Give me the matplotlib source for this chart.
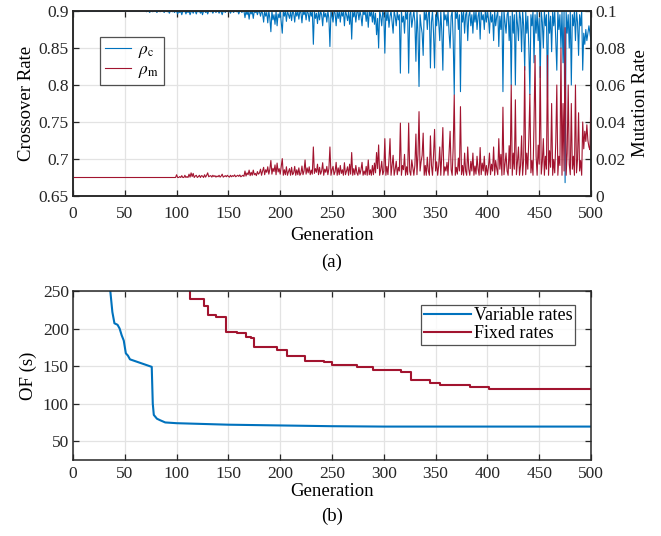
import numpy as np
import matplotlib
matplotlib.use("Agg")
import matplotlib.pyplot as plt

plt.rcParams['font.family'] = ['Liberation Serif', 'DejaVu Serif']
plt.rcParams['mathtext.fontset'] = 'stix'

# ---- (a) adaptive rates per generation ----
crossover_rate = [0.9] * 70 + [
    .9, .899, .9, .9, .898, .9, .9, .899, .9, .9, .9, .898, .9, .9, .899, .9, .9, .9, .898, .9,
    .9, .899, .9, .897, .9, .9, .899, .9, .898, .9, .9, .896, .9, .898, .9, .895, .9, .899, .9, .896,
    .9, .898, .9, .895, .899, .9, .897, .9, .9, .896, .9, .899, .9, .897, .9, .895, .9, .9, .898, .9,
    .896, .9, .9, .899, .9, .897, .9, .9, .898, .9, .9, .897, .9, .899, .895, .9, .9, .898, .9, .9,
    .899, .9, .897, .9, .9, .898, .9, .9, .899, .9, .896, .9, .9, .898, .9, .9, .891, .9, .895, .9,
    .889, .9, .896, .9, .89, .9, .898, .9, .895, .9, .899, .893, .9, .897, .885, .9, .893, .898, .884, .9,
    .89, .872, .9, .888, .895, .882, .9, .88, .896, .891, .9, .885, .87, .9, .893, .9, .886, .9, .895, .89,
    .9, .887, .9, .897, .885, .9, .893, .9, .889, .9, .898, .884, .9, .895, .9, .888, .9, .897, .886, .9,
    .893, .9, .855, .9, .89, .897, .883, .9, .888, .9, .895, .88, .9, .892, .897, .885, .9, .89, .852, .9,
    .893, .885, .9, .897, .88, .9, .89, .9, .885, .899, .893, .9, .88, .9, .895, .887, .9, .882, .9, .862,
    .9, .892, .9, .885, .898, .9, .888, .9, .893, .88, .9, .895, .9, .886, .9, .878, .9, .893, .9, .885,
    .9, .882, .897, .868, .89, .85, .9, .893, .88, .9, .895, .843, .9, .887, .9, .878, .893, .9, .885, .87,
    .9, .893, .88, .9, .888, .895, .816, .9, .885, .893, .87, .9, .889, .9, .816, .895, .9, .878, .89, .9,
    .885, .832, .9, .87, .798, .895, .88, .87, .84, .9, .888, .9, .875, .896, .9, .823, .885, .9, .87, .823,
    .895, .88, .9, .885, .86, .9, .872, .82, .9, .888, .895, .88, .9, .87, .85, .893, .9, .86, .787, .9,
    .89, .9, .875, .895, .791, .9, .885, .9, .87, .895, .9, .86, .893, .9, .88, .895, .87, .9, .885, .9,
    .875, .893, .9, .862, .9, .888, .895, .875, .9, .885, .9, .89, .87, .9, .885, .895, .86, .9, .88, .893,
    .9, .852, .893, .875, .9, .791, .9, .885, .87, .895, .9, .86, .893, .8, .9, .87, .895, .8, .9, .883,
    .86, .9, .89, .845, .9, .88, .82, .9, .87, .893, .85, .787, .895, .88, .9, .83, .895, .87, .9, .86,
    .89, .81, .9, .885, .85, .9, .88, .895, .783, .9, .87, .893, .845, .9, .88, .9, .86, .82, .9, .875,
    .895, .85, .9, .83, .9, .668, .9, .87, .895, .85, .9, .8, .895, .88, .9, .86, .9, .885, .84, .895,
    .88, .9, .82, .87, .855, .875, .86, .87, .88, .87, .86,
]

mutation_rate = [0.01] * 100 + [
    .0115, .01, .01, .0105, .01, .011, .01, .01, .0112, .01, .0105, .01, .0118, .0102, .0125, .0105, .0122, .01, .0108, .0112,
    .01, .0105, .0112, .01, .011, .0108, .01, .0115, .0102, .0112, .0125, .0104, .0108, .011, .0102, .0112, .0105, .011, .0102, .0108,
    .0104, .0112, .0102, .0108, .0118, .0102, .0106, .011, .0104, .0112, .0106, .0102, .0112, .0104, .011, .0106, .0114, .0104, .0108, .0112,
    .0106, .0114, .0104, .0108, .0112, .0106, .0135, .0108, .0125, .0115, .014, .011, .0128, .0112, .014, .0115, .0122, .011, .0132, .0118,
    .0125, .0145, .0112, .0135, .0155, .0115, .0142, .0128, .0158, .0118, .0145, .0192, .0118, .015, .0132, .0168, .0115, .0178, .013, .0148,
    .0118, .0158, .0202, .0112, .0142, .0115, .0158, .0112, .0132, .0148, .0112, .0155, .0115, .0125, .016, .0112, .0142, .0115, .0152, .0112,
    .0122, .0162, .0115, .0135, .0195, .0118, .0152, .0125, .0158, .0115, .014, .0118, .0265, .0122, .0148, .0128, .0172, .0115, .0155, .0118,
    .0135, .018, .0112, .0145, .0128, .016, .0115, .0148, .0265, .0112, .0142, .016, .0115, .0132, .0182, .0112, .0152, .0115, .0165, .0122,
    .0142, .0112, .018, .0115, .0135, .0158, .0112, .0172, .0118, .0235, .0112, .0148, .0115, .0165, .0125, .0112, .0155, .0118, .0142, .0182,
    .0112, .0135, .0115, .016, .0112, .0195, .0115, .0142, .0112, .0165, .0115, .0178, .0125, .0235, .0148, .0276, .0112, .0142, .0188, .0115,
    .0135, .031, .0112, .016, .0115, .0195, .031, .0112, .0165, .022, .0112, .0145, .0188, .0115, .0155, .0135, .0394, .0112, .0165, .0142,
    .0225, .0112, .0158, .0115, .0394, .0135, .0112, .0195, .0155, .0112, .0165, .0335, .0115, .0225, .0456, .0135, .0185, .022, .034, .0112,
    .0165, .0112, .021, .0135, .0112, .0325, .0165, .0112, .022, .036, .0135, .0185, .0112, .0165, .0265, .0112, .0222, .037, .0112, .0158,
    .0135, .0182, .0112, .0232, .035, .0142, .0112, .0265, .0546, .0112, .0155, .0118, .0205, .0135, .0483, .0115, .0165, .0112, .0232, .0135,
    .0112, .0265, .0145, .0112, .0188, .0135, .0232, .0112, .0162, .0118, .0215, .0145, .0112, .0262, .0115, .0178, .0135, .0215, .0112, .0165,
    .0113, .0155, .0232, .0115, .0172, .0135, .0265, .0112, .0192, .0148, .0115, .031, .0145, .0225, .0112, .048, .0115, .0172, .0232, .0135,
    .0112, .0272, .0148, .06, .0112, .0232, .0145, .052, .0115, .0185, .0265, .0112, .0165, .0325, .0112, .0198, .07, .0115, .0232, .0145,
    .031, .055, .0125, .0192, .0112, .0395, .076, .0215, .0112, .0275, .0172, .07, .0118, .0185, .031, .0112, .0215, .0145, .076, .0112,
    .0245, .0155, .05, .0112, .0198, .0125, .029, .06, .0112, .0215, .0165, .08, .0112, .05, .0135, .091, .0112, .023, .06, .0172,
    .0115, .05, .0145, .0215, .0112, .06, .0125, .0198, .045, .0135, .0192, .0112, .04, .0255, .035, .0295, .0385, .03, .0265, .025, .057,
]

# ---- (b) best objective function value ----
var_gen = [0, 30, 36, 38, 40, 43, 45, 47, 49, 51, 53, 55, 76, 77, 78, 81, 84, 89, 100, 150, 200, 250, 300, 500]
var_of = [300, 270, 250, 222, 207, 205, 200, 191, 184, 167, 164, 159, 149, 100, 85, 80, 78, 75, 74, 72, 71, 70, 69.5, 69.5]

fix_gen = [0, 113, 126, 130, 138, 148, 158, 167, 172, 175, 197, 207, 224, 242, 250, 274, 290, 317, 326, 345, 354, 383, 402, 500]
fix_of = [300, 240, 230, 218, 216, 196, 194, 189, 187, 175, 172, 163, 157, 155, 151, 149, 145, 142, 131, 127.5, 125, 122, 120, 120]

blue = '#0072BD'
red = '#A2142F'
spine_col = '#262626'
grid_col = '#e3e3e3'
tick_fs = 12.5
label_fs = 13.5

fig = plt.figure(figsize=(6.61, 5.36), dpi=100)

def style(ax):
    ax.grid(True, color=grid_col, linewidth=0.9)
    ax.set_axisbelow(True)
    for s in ax.spines.values():
        s.set_color(spine_col)
        s.set_linewidth(1.1)
    ax.tick_params(direction='in', colors=spine_col, labelcolor='#262626',
                   length=4, width=0.9, labelsize=tick_fs, pad=3)

# top panel
ax1 = fig.add_axes([73/661, 1-196/536, 518/661, 185/536])
style(ax1)
gen_c = np.arange(len(crossover_rate))
gen_m = np.arange(len(mutation_rate))
l1, = ax1.plot(gen_c, crossover_rate, color=blue, linewidth=0.8)
ax1.set_xlim(0, 500)
ax1.set_ylim(0.65, 0.9)
ax1.set_xticks(np.arange(0, 501, 50))
ax1.set_yticks([0.65, 0.7, 0.75, 0.8, 0.85, 0.9])
ax1.set_yticklabels(['0.65', '0.7', '0.75', '0.8', '0.85', '0.9'])
ax1.tick_params(top=True)
ax1.tick_params(axis='x', pad=7)
ax1.set_ylabel('Crossover Rate', fontsize=label_fs, labelpad=3)
ax1.set_xlabel('Generation', fontsize=label_fs, labelpad=4)

ax2 = ax1.twinx()
l2, = ax2.plot(gen_m, mutation_rate, color=red, linewidth=0.8)
ax2.set_ylim(0, 0.1)
ax2.set_yticks([0, 0.02, 0.04, 0.06, 0.08, 0.1])
ax2.set_yticklabels(['0', '0.02', '0.04', '0.06', '0.08', '0.1'])
for s in ax2.spines.values():
    s.set_color(spine_col)
    s.set_linewidth(1.1)
ax2.tick_params(direction='in', colors=spine_col, labelcolor='#262626',
                length=4, width=0.9, labelsize=tick_fs, pad=3)
ax2.set_ylabel('Mutation Rate', fontsize=label_fs, labelpad=5)

leg = ax2.legend([l1, l2], [r'$\rho_{\rm c}$', r'$\rho_{\rm m}$'], loc='upper left',
                 bbox_to_anchor=(0.052, 0.86), fontsize=12.5, frameon=True, fancybox=False,
                 edgecolor=spine_col, handlelength=1.5, handletextpad=0.4,
                 borderpad=0.3, labelspacing=0.1, borderaxespad=0)
leg.get_frame().set_linewidth(0.9)

fig.text((73 + 591) / 2 / 661, 1 - 262/536, '(a)', ha='center', va='center', fontsize=label_fs)

# bottom panel
ax3 = fig.add_axes([73/661, 1-460/536, 518/661, 169/536])
style(ax3)
ax3.plot(var_gen, var_of, color=blue, linewidth=1.5, label='Variable rates')
ax3.step(fix_gen, fix_of, where='post', color=red, linewidth=1.5, label='Fixed rates')
ax3.set_xlim(0, 500)
ax3.set_ylim(25, 250)
ax3.set_xticks(np.arange(0, 501, 50))
ax3.set_yticks([50, 100, 150, 200, 250])
ax3.tick_params(top=True, right=True)
ax3.tick_params(axis='x', pad=4)
ax3.set_ylabel('OF (s)', fontsize=label_fs, labelpad=4)
ax3.set_xlabel('Generation', fontsize=label_fs, labelpad=1)
leg2 = ax3.legend(loc='upper right', bbox_to_anchor=(0.97, 0.92), fontsize=13, frameon=True,
                  fancybox=False, edgecolor=spine_col, handlelength=2.6, borderpad=0.15,
                  labelspacing=0.05, handletextpad=0.2, borderaxespad=0)
leg2.get_frame().set_linewidth(0.9)

fig.text((73 + 591) / 2 / 661, 1 - 516/536, '(b)', ha='center', va='center', fontsize=label_fs)

fig.savefig('out.png', dpi=100)
